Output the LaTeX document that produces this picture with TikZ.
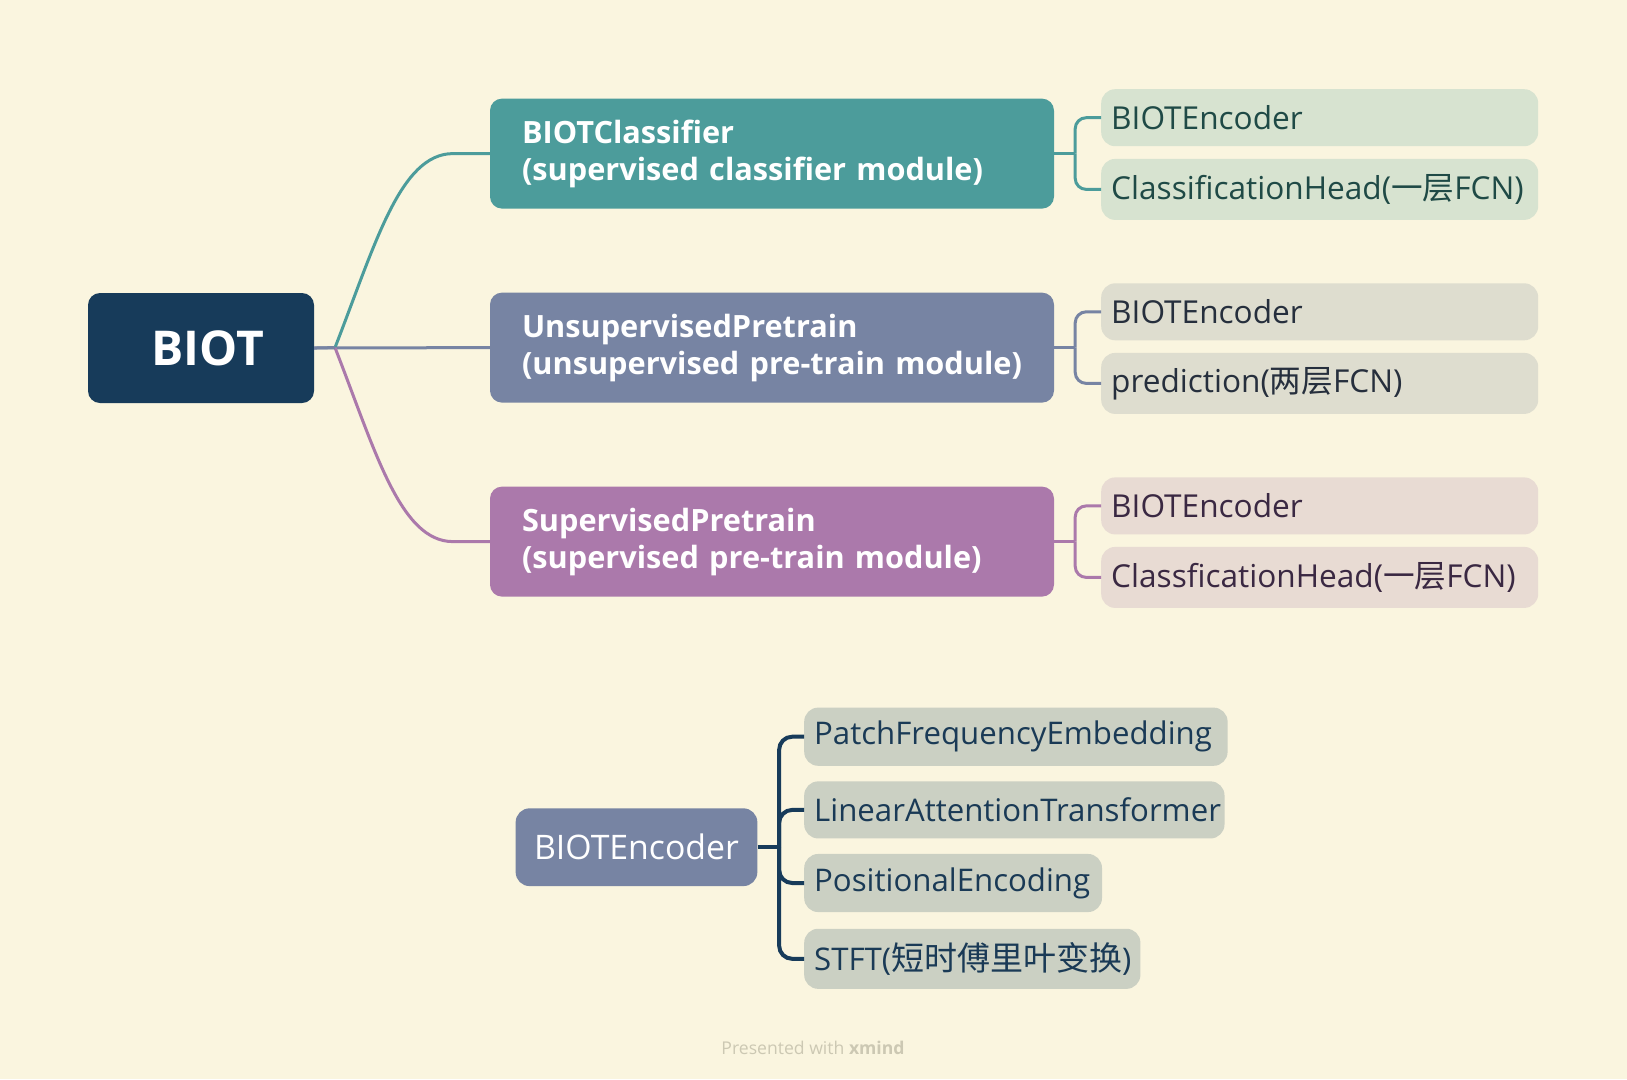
\documentclass[tikz,border=0pt]{standalone}
\usepackage{fontspec}
\usepackage{graphicx}
\setmainfont{Open Sans}
\newfontfamily\cjk{Noto Sans CJK SC}
\usetikzlibrary{calc}
\definecolor{bg}{HTML}{FAF5DF}
\definecolor{rootc}{HTML}{173B5A}
\definecolor{tealc}{HTML}{4C9C9B}
\definecolor{slatec}{HTML}{7784A3}
\definecolor{purpc}{HTML}{AB79AB}
\definecolor{greenf}{HTML}{D7E3D0}
\definecolor{greent}{HTML}{1F4A46}
\definecolor{grayf}{HTML}{DEDDCF}
\definecolor{grayt}{HTML}{262F3D}
\definecolor{pinkf}{HTML}{E8DBD3}
\definecolor{pinkt}{HTML}{3A2842}
\definecolor{botf}{HTML}{CBD0C3}
\definecolor{bott}{HTML}{1A3A56}
\definecolor{footc}{HTML}{CCC8B3}
\tikzset{
  mainbox/.style={rectangle, rounded corners=12pt, minimum width=564pt, minimum height=110pt,
    text width=500pt, inner xsep=32pt, align=left, text=white,
    font=\fontsize{30.7}{37}\selectfont\bfseries},
  subbox/.style={rectangle, rounded corners=14pt, minimum width=437pt,
    text width=417pt, inner xsep=10pt, align=left, anchor=west,
    font=\fontsize{31.6}{36}\selectfont},
  botbox/.style={rectangle, rounded corners=14pt, fill=botf, text=bott, inner xsep=10pt, align=left, anchor=west,
    font=\fontsize{31.2}{36}\selectfont},
  conn/.style={line width=3pt},
  bconn/.style={line width=4pt, draw=rootc, rounded corners=13pt},
}
\begin{document}
\begin{tikzpicture}[x=1pt,y=-1pt]
\fill[bg] (0,0) rectangle (1627,1079);
\useasboundingbox (0,0) rectangle (1627,1079);

% root
\node[rectangle, rounded corners=12pt, fill=rootc, minimum width=226pt, minimum height=110pt,
  text=white, font=\fontsize{48}{56}\selectfont\bfseries] (root) at (201,348) {\hspace*{14pt}BIOT};

% main boxes
\node[mainbox, fill=tealc] (cls) at (772,153.6) {\raisebox{-2pt}{BIOTClassifier}\\\raisebox{-2pt}{(supervised classifier module)}};
\node[mainbox, fill=slatec] (unsup) at (772,347.6) {\raisebox{-2pt}{UnsupervisedPretrain}\\\raisebox{-2pt}{(unsupervised pre-train module)}};
\node[mainbox, fill=purpc] (sup) at (772,541.6) {\raisebox{-2pt}{SupervisedPretrain}\\\raisebox{-2pt}{(supervised pre-train module)}};

% root connectors
\coordinate (rj) at (335,347.6);
\draw[conn, draw=slatec] (root.east) -- (unsup.west);
\draw[conn, draw=tealc] (rj) .. controls (375,245) and (400,153.6) .. (453,153.6) -- (cls.west);
\draw[conn, draw=purpc] (rj) .. controls (375,450) and (400,541.6) .. (453,541.6) -- (sup.west);
\draw[conn, draw=slatec] (root.east) -- (rj);

% sub boxes
\node[subbox, fill=greenf, text=greent, minimum height=57pt] (c1) at (1101,117.7) {BIOTEncoder};
\node[subbox, fill=greenf, text=greent, minimum height=61pt] (c2) at (1101,189.4) {ClassificationHead({\cjk 一层}FCN)};
\node[subbox, fill=grayf, text=grayt, minimum height=57pt] (u1) at (1101,311.8) {BIOTEncoder};
\node[subbox, fill=grayf, text=grayt, minimum height=61pt] (u2) at (1101,383.4) {prediction({\cjk 两层}FCN)};
\node[subbox, fill=pinkf, text=pinkt, minimum height=57pt] (s1) at (1101,505.9) {BIOTEncoder};
\node[subbox, fill=pinkf, text=pinkt, minimum height=61pt] (s2) at (1101,577.4) {ClassficationHead({\cjk 一层}FCN)};

% brackets
\coordinate (cj) at ($(cls.east)+(21,0)$);
\coordinate (uj) at ($(unsup.east)+(21,0)$);
\coordinate (sj) at ($(sup.east)+(21,0)$);
\draw[conn, draw=tealc] (cls.east) -- (cj);
\draw[conn, draw=tealc, rounded corners=11pt] (cj) |- (c1.west);
\draw[conn, draw=tealc, rounded corners=11pt] (cj) |- (c2.west);
\draw[conn, draw=slatec] (unsup.east) -- (uj);
\draw[conn, draw=slatec, rounded corners=11pt] (uj) |- (u1.west);
\draw[conn, draw=slatec, rounded corners=11pt] (uj) |- (u2.west);
\draw[conn, draw=purpc] (sup.east) -- (sj);
\draw[conn, draw=purpc, rounded corners=11pt] (sj) |- (s1.west);
\draw[conn, draw=purpc, rounded corners=11pt] (sj) |- (s2.west);

% bottom
\node[rectangle, rounded corners=14pt, fill=slatec, text=white, minimum width=241.7pt, minimum height=77.8pt,
  font=\fontsize{33.8}{38}\selectfont] (enc) at (636.5,847.2) {BIOTEncoder};
\node[botbox, minimum width=423.4pt, text width=403.4pt, minimum height=58.2pt] (b1) at (804,736.7) {\raisebox{-2pt}{PatchFrequencyEmbedding}};
\node[botbox, minimum width=420.3pt, text width=400.3pt, minimum height=57.1pt] (b2) at (804,809.9) {\raisebox{-1pt}{LinearAttentionTransformer}};
\node[botbox, minimum width=297.8pt, text width=277.8pt, minimum height=58.1pt] (b3) at (804,883) {\raisebox{-2pt}{PositionalEncoding}};
\node[botbox, minimum width=336.2pt, text width=316.2pt, minimum height=60.1pt] (b4) at (804,958.8) {STFT({\cjk\fontsize{33}{36}\selectfont 短时傅里叶变换})};

\coordinate (ej) at ($(enc.east)+(21.6,0)$);
\draw[line width=4pt, draw=rootc] (enc.east) -- (ej);
\draw[bconn] (ej) |- (b1.west);
\draw[bconn] (ej) |- (b2.west);
\draw[bconn] (ej) |- (b3.west);
\draw[bconn] (ej) |- (b4.west);

% footer
\node[text=footc, font=\fontsize{17.6}{20}\selectfont] (foot) at (813,1048) {Presented with \textbf{xmind}};
\end{tikzpicture}
\end{document}
